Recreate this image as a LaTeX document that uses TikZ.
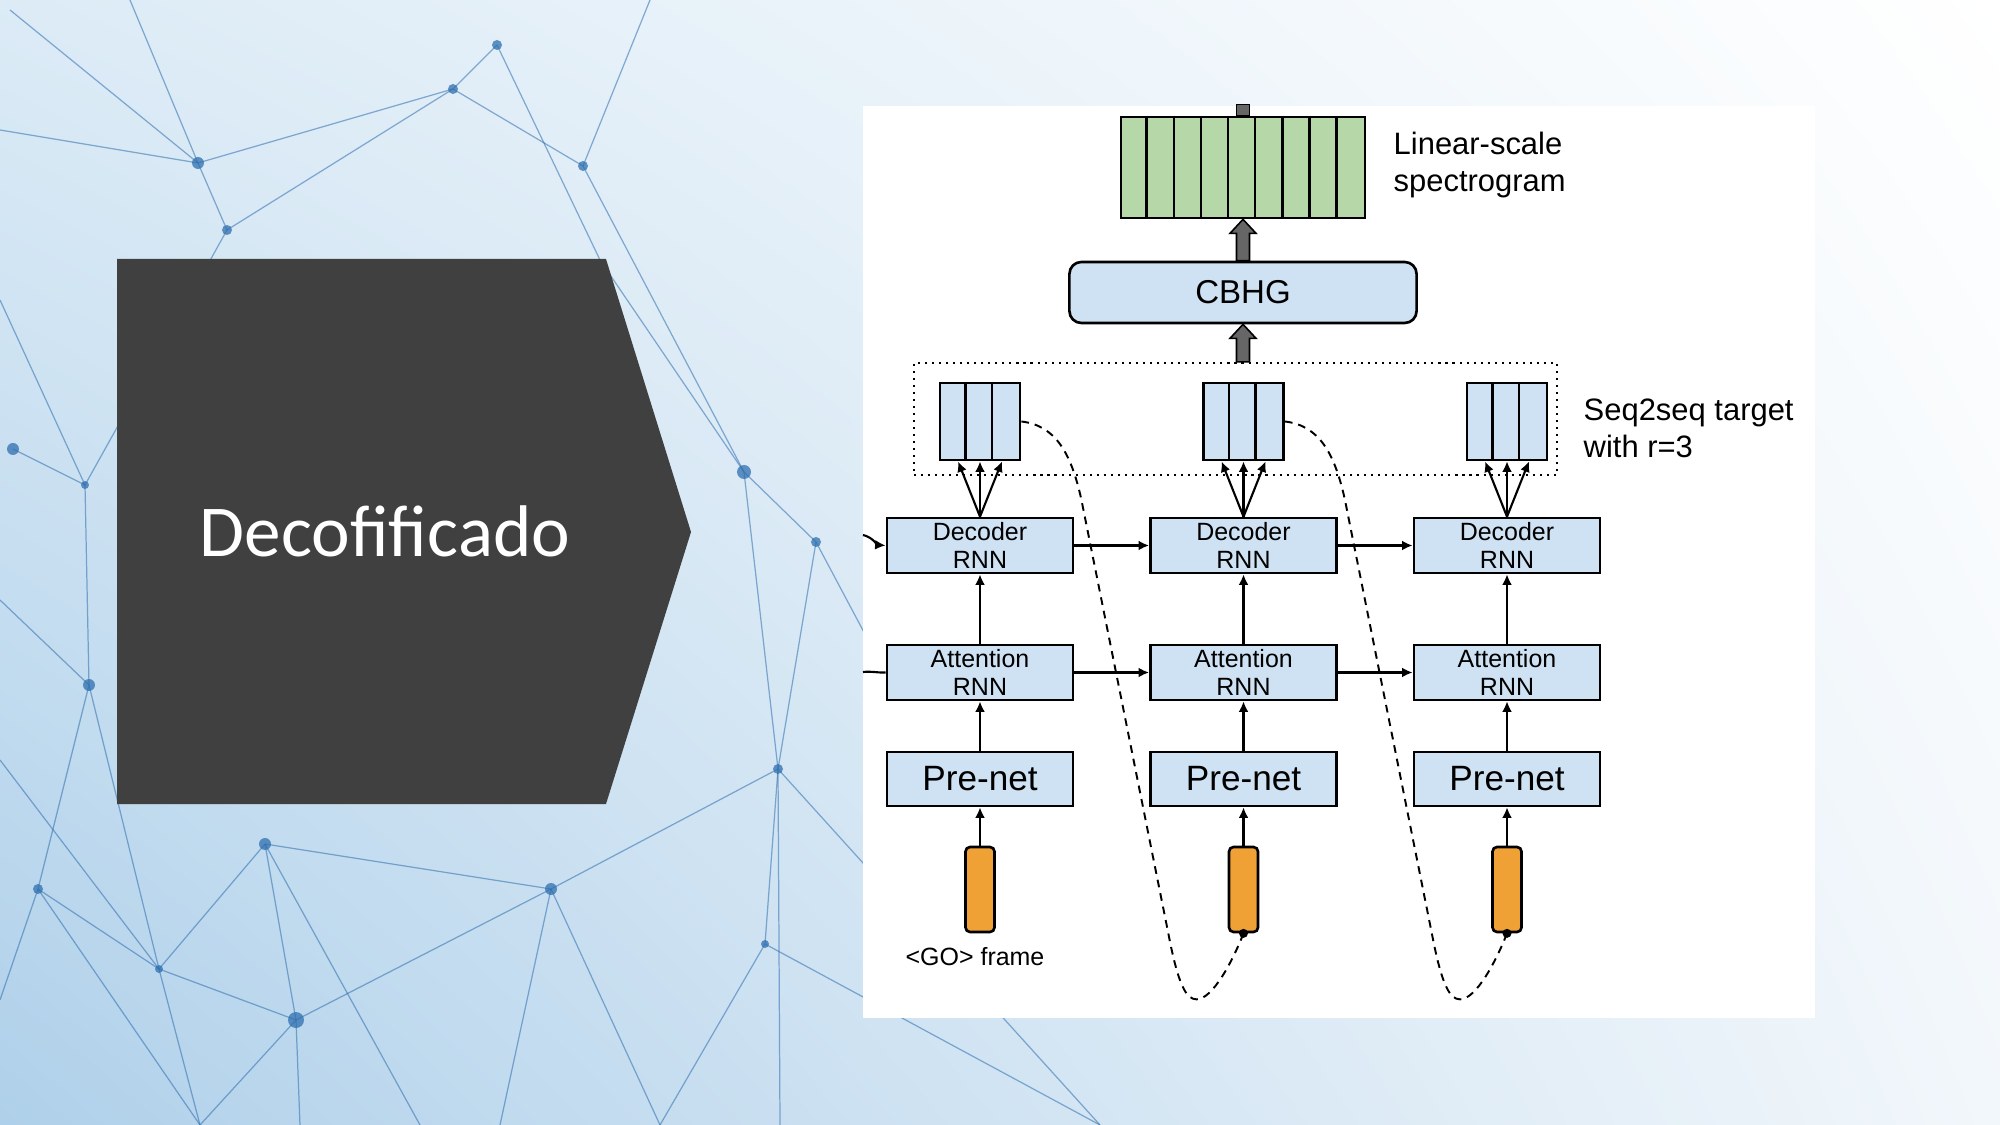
\documentclass[tikz,border=0pt]{standalone}
\usepackage{fontspec}
\setmainfont{Liberation Sans}
\newfontfamily\slidefont{Carlito}
\usetikzlibrary{arrows.meta,calc,shadings}

\definecolor{boxblue}{HTML}{CFE2F3}
\definecolor{specgreen}{HTML}{B6D7A8}
\definecolor{orangebar}{HTML}{F0A136}
\definecolor{darkpanel}{HTML}{404040}
\definecolor{thickgray}{HTML}{666666}
\definecolor{netblue}{HTML}{2F6FAF}
\definecolor{bgul}{HTML}{DCEBF6}
\definecolor{bgll}{HTML}{AFD0EA}
\definecolor{bgur}{HTML}{FFFFFF}
\definecolor{bglr}{HTML}{F2F7FB}

\newcommand\bigarrow[2]{%
  \filldraw[fill=thickgray, draw=black, line width=0.45pt]
    ($(#1)+(-6.5,0)$) -- ($(#2)+(-6.5,14)$) -- ($(#2)+(-13,14)$) -- (#2)
    -- ($(#2)+(13,14)$) -- ($(#2)+(6.5,14)$) -- ($(#1)+(6.5,0)$) -- cycle;}

\begin{document}
\begin{tikzpicture}[x=0.01cm,y=-0.01cm,
  rnnbox/.style={draw, line width=0.75pt, fill=boxblue, minimum width=1.86cm,
    minimum height=0.55cm, inner sep=0pt, align=center,
    font=\fontsize{7.1}{8}\selectfont},
  prebox/.style={rnnbox, font=\fontsize{10}{11}\selectfont},
  orangebox/.style={draw, line width=0.75pt, fill=orangebar, rounded corners=1.3pt,
    minimum width=0.29cm, minimum height=0.85cm, inner sep=0pt},
  seqbox/.style={draw, line width=0.75pt, fill=boxblue, minimum width=0.8cm,
    minimum height=0.77cm, inner sep=0pt},
  thinarrow/.style={line width=0.6pt, -{Latex[length=3pt,width=2.8pt]}},
  dashcurve/.style={line width=0.55pt, dash pattern=on 2.2pt off 1.7pt},
  netline/.style={netblue, line width=0.35pt, opacity=0.55},
  lbl/.style={font=\fontsize{8.8}{10.5}\selectfont, align=left, inner sep=0pt}
]
\useasboundingbox (0,0) rectangle (2000,1125);

% ---------- background ----------
\shade[upper left=bgul, lower left=bgll, upper right=bgur, lower right=bglr]
  (0,0) rectangle (2000,1125);

% network decoration
\foreach \ax/\ay/\bx/\by in {
  0/130/198/163, 198/163/453/89, 198/163/227/230, 453/89/497/45, 453/89/583/166,
  453/89/227/230, 10/10/198/163, 227/230/85/485, 13/449/85/485, 85/485/89/685,
  89/685/38/889, 89/685/159/969, 38/889/159/969, 159/969/265/844, 159/969/296/1020,
  265/844/551/889, 265/844/296/1020, 296/1020/300/1125, 296/1020/200/1125,
  551/889/778/769, 551/889/660/1125, 551/889/296/1020, 778/769/744/472,
  778/769/816/542, 778/769/765/944, 778/769/780/1125, 744/472/816/542,
  744/472/583/166, 765/944/660/1125, 765/944/1100/1125, 778/769/1100/1125,
  159/969/200/1125, 38/889/200/1125, 497/45/600/260, 600/260/744/472,
  816/542/900/700, 0/600/89/685, 0/300/85/485, 583/166/650/0, 198/163/130/0,
  38/889/0/1000, 551/889/500/1125, 265/844/420/1125, 0/760/159/969}
{ \draw[netline] (\ax,\ay) -- (\bx,\by); }
\foreach \px/\py/\r in {198/163/6, 453/89/5, 497/45/5, 583/166/5, 227/230/5, 13/449/6,
  85/485/4, 89/685/6, 38/889/5, 159/969/4, 265/844/6, 296/1020/8, 551/889/6,
  778/769/5, 744/472/7, 816/542/5, 765/944/4}
{ \fill[netblue, opacity=0.75] (\px,\py) circle (\r); }

% ---------- title pentagon ----------
\fill[darkpanel] (117,259) -- (606,259) -- (691,532) -- (606,804) -- (117,804) -- cycle;
\node[font=\slidefont\fontsize{20.8}{25}\selectfont, text=white] (title) at (385,531) {Decofificado};

% ---------- white figure panel ----------
\fill[white] (863,106) rectangle (1815,1018);

% spectrogram
\node[draw, line width=0.75pt, fill=specgreen, minimum width=2.44cm, minimum height=1.01cm,
  inner sep=0pt] (spec) at (1243,167.5) {};
\foreach \k in {1,...,8}
  \draw[line width=0.75pt] ($(spec.north west)+(\k*27.11,0)$) -- ($(spec.south west)+(\k*27.11,0)$);
\filldraw[fill=thickgray, draw=black, line width=0.45pt]
  ($(spec.north)+(-6.5,0)$) rectangle ($(spec.north)+(6.5,-11)$);
\node[lbl, anchor=west] (speclbl) at (1393,165) {Linear-scale\\spectrogram};

% CBHG
\node[draw, line width=0.75pt, fill=boxblue, rounded corners=3.4pt, minimum width=3.47cm,
  minimum height=0.61cm, inner sep=0pt, font=\fontsize{9.4}{11}\selectfont] (cbhg) at (1243,292.5) {CBHG};

% dotted group
\node[draw, line width=0.6pt, dash pattern=on 0.6pt off 1.4pt, minimum width=6.43cm,
  minimum height=1.12cm, inner sep=0pt] (dotbox) at (1235.5,419) {};
\node[lbl, anchor=west] (seqlbl) at (1583,428) {Seq2seq target\\with r=3};

\coordinate (a2start) at (cbhg.south |- dotbox.north);
\bigarrow{a2start}{cbhg.south}
\bigarrow{cbhg.north}{spec.south}

% columns
\foreach \i/\cx in {1/980,2/1243.5,3/1507}{
  \node[seqbox] (seq\i) at (\cx,421.5) {};
  \draw[line width=0.75pt] ($(seq\i.north west)+(26.7,0)$) -- ($(seq\i.south west)+(26.7,0)$);
  \draw[line width=0.75pt] ($(seq\i.north west)+(53.3,0)$) -- ($(seq\i.south west)+(53.3,0)$);
  \node[rnnbox] (dec\i) at (\cx,545.5) {Decoder\\RNN};
  \node[rnnbox] (att\i) at (\cx,672.5) {Attention\\RNN};
  \node[prebox, minimum height=0.54cm] (pre\i) at (\cx,779) {Pre-net};
  \node[orangebox] (org\i) at (\cx,889.5) {};
  \draw[thinarrow] (org\i.north) -- (pre\i.south);
  \draw[thinarrow] (pre\i.north) -- (att\i.south);
  \draw[thinarrow] (att\i.north) -- (dec\i.south);
  \draw[thinarrow] (dec\i.north) -- ($(seq\i.south)+(-22,0)$);
  \draw[thinarrow] (dec\i.north) -- (seq\i.south);
  \draw[thinarrow] (dec\i.north) -- ($(seq\i.south)+(22,0)$);
}

\draw[thinarrow] (dec1.east) -- (dec2.west);
\draw[thinarrow] (dec2.east) -- (dec3.west);
\draw[thinarrow] (att1.east) -- (att2.west);
\draw[thinarrow] (att2.east) -- (att3.west);

% incoming from the left edge
\coordinate (indec) at (863,535);
\coordinate (inatt) at (863,672);
\draw[thinarrow] (indec) .. controls (872,537) and (878,545) .. (dec1.west);
\draw[line width=0.6pt] (inatt) .. controls (872,671) and (878,673) .. (att1.west);

\node[font=\fontsize{7.1}{8}\selectfont, inner sep=0pt] (golbl) at (975,957) {<GO> frame};

% feedback dashed curves
\foreach \i/\j in {1/2,2/3}{
  \draw[dashcurve] (seq\i.east) .. controls +(35,4) and +(-10,-45) .. ++(60,78)
    -- ($(org\j.south)+(-75,1)$)
    .. controls +(10,52) and +(-10,0) .. ($(org\j.south)+(-47,66)$)
    .. controls +(16,0) and +(-11,28) .. (org\j.south);
  \fill (org\j.south) circle (4.5);
}
\end{tikzpicture}
\end{document}
